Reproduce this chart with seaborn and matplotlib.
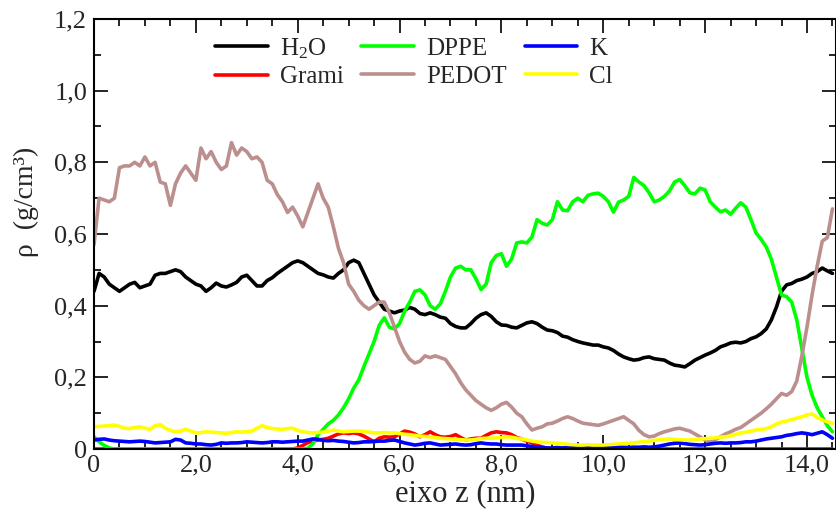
import numpy as np
import pandas as pd
import matplotlib
matplotlib.use("Agg")
import matplotlib.pyplot as plt
import seaborn as sns
from matplotlib.ticker import MultipleLocator, FixedLocator, FixedFormatter

# ---------------- data ----------------
z_nm = np.round(np.arange(0, 14.55, 0.1), 1)  # 0.0 .. 14.5 nm

h2o = [0.44, 0.49, 0.48, 0.46, 0.45, 0.44, 0.45, 0.46, 0.465, 0.45,
       0.455, 0.46, 0.485, 0.49, 0.49, 0.495, 0.50, 0.495, 0.48, 0.47,
       0.46, 0.455, 0.44, 0.45, 0.463, 0.455, 0.452, 0.458, 0.465, 0.48,
       0.485, 0.47, 0.455, 0.455, 0.47, 0.478, 0.49, 0.50, 0.51, 0.52,
       0.525, 0.52, 0.51, 0.50, 0.49, 0.486, 0.48, 0.477, 0.49, 0.50,
       0.52, 0.527, 0.52, 0.49, 0.46, 0.43, 0.41, 0.39, 0.385, 0.38,
       0.385, 0.388, 0.395, 0.39, 0.378, 0.375, 0.38, 0.375, 0.368, 0.365,
       0.35, 0.342, 0.338, 0.338, 0.35, 0.365, 0.375, 0.38, 0.37, 0.355,
       0.346, 0.345, 0.34, 0.338, 0.345, 0.352, 0.355, 0.35, 0.34, 0.332,
       0.33, 0.325, 0.315, 0.312, 0.305, 0.30, 0.296, 0.293, 0.29, 0.29,
       0.285, 0.282, 0.275, 0.265, 0.257, 0.252, 0.248, 0.25, 0.255, 0.257,
       0.252, 0.25, 0.248, 0.24, 0.234, 0.232, 0.229, 0.238, 0.248, 0.255,
       0.262, 0.268, 0.275, 0.285, 0.29, 0.296, 0.298, 0.296, 0.30, 0.308,
       0.313, 0.322, 0.335, 0.36, 0.396, 0.44, 0.458, 0.462, 0.47, 0.474,
       0.48, 0.49, 0.495, 0.505, 0.497, 0.49]

grami = [0.0] * 40 + [
       0.003, 0.01, 0.018, 0.022, 0.025, 0.027, 0.03, 0.036, 0.042, 0.045,
       0.043, 0.045, 0.042, 0.036, 0.028, 0.02, 0.03, 0.034, 0.033, 0.034,
       0.042, 0.05, 0.047, 0.042, 0.034, 0.04, 0.048, 0.04, 0.034, 0.033,
       0.035, 0.04, 0.032, 0.025, 0.028, 0.03, 0.03, 0.038, 0.045, 0.048,
       0.046, 0.045, 0.04, 0.032, 0.028, 0.022, 0.017, 0.01, 0.006, 0.002] + [0.0] * 56

dppe = [0.034, 0.02, 0.01, 0.003] + [0.0] * 38 + [
       0.002, 0.015, 0.04, 0.055, 0.07, 0.08, 0.095, 0.115,
       0.14, 0.17, 0.193, 0.23, 0.265, 0.30, 0.345, 0.366, 0.34, 0.335,
       0.35, 0.385, 0.41, 0.44, 0.444, 0.43, 0.40, 0.39, 0.405, 0.44,
       0.48, 0.505, 0.51, 0.50, 0.50, 0.475, 0.445, 0.46, 0.52, 0.54,
       0.545, 0.51, 0.53, 0.575, 0.578, 0.575, 0.592, 0.64, 0.63, 0.625,
       0.64, 0.69, 0.667, 0.665, 0.69, 0.70, 0.69, 0.708, 0.712, 0.714,
       0.705, 0.69, 0.661, 0.689, 0.695, 0.705, 0.758, 0.745, 0.735, 0.715,
       0.69, 0.695, 0.705, 0.72, 0.745, 0.752, 0.735, 0.715, 0.712, 0.728,
       0.723, 0.69, 0.675, 0.662, 0.667, 0.655, 0.672, 0.687, 0.675, 0.64,
       0.603, 0.585, 0.564, 0.53, 0.48, 0.43, 0.425, 0.41, 0.36, 0.28,
       0.20, 0.15, 0.115, 0.09, 0.065, 0.048]

pedot = [0.57, 0.70, 0.695, 0.69, 0.70, 0.785, 0.79, 0.79, 0.80, 0.79,
         0.815, 0.79, 0.80, 0.745, 0.74, 0.68, 0.74, 0.77, 0.79, 0.77,
         0.75, 0.84, 0.81, 0.83, 0.80, 0.78, 0.79, 0.855, 0.82, 0.84,
         0.83, 0.81, 0.815, 0.80, 0.75, 0.74, 0.71, 0.69, 0.66, 0.675,
         0.65, 0.62, 0.66, 0.70, 0.74, 0.70, 0.675, 0.62, 0.56, 0.52,
         0.46, 0.44, 0.415, 0.40, 0.39, 0.40, 0.41, 0.41, 0.38, 0.34,
         0.30, 0.27, 0.25, 0.24, 0.245, 0.26, 0.255, 0.26, 0.255, 0.25,
         0.23, 0.21, 0.185, 0.165, 0.15, 0.135, 0.125, 0.115, 0.108, 0.115,
         0.125, 0.13, 0.117, 0.10, 0.09, 0.07, 0.053, 0.058, 0.062, 0.07,
         0.072, 0.078, 0.085, 0.09, 0.085, 0.078, 0.072, 0.07, 0.068, 0.066,
         0.07, 0.075, 0.08, 0.085, 0.09, 0.08, 0.07, 0.052, 0.04, 0.034,
         0.036, 0.043, 0.048, 0.052, 0.056, 0.058, 0.054, 0.05, 0.042, 0.034,
         0.025, 0.02, 0.026, 0.034, 0.042, 0.048, 0.055, 0.06, 0.07, 0.08,
         0.09, 0.10, 0.112, 0.125, 0.14, 0.155, 0.15, 0.16, 0.19, 0.26,
         0.34, 0.43, 0.51, 0.58, 0.59, 0.67]

k_ion = [0.025, 0.027, 0.028, 0.025, 0.023, 0.022, 0.021, 0.02, 0.021, 0.022,
         0.021, 0.019, 0.017, 0.018, 0.019, 0.02, 0.027, 0.025, 0.017, 0.016,
         0.014, 0.014, 0.012, 0.011, 0.013, 0.017, 0.016, 0.017, 0.017, 0.018,
         0.02, 0.019, 0.018, 0.017, 0.018, 0.02, 0.02, 0.019, 0.02, 0.021,
         0.022, 0.022, 0.025, 0.028, 0.027, 0.024, 0.023, 0.024, 0.022, 0.021,
         0.019, 0.017, 0.018, 0.02, 0.02, 0.021, 0.022, 0.022, 0.024, 0.025,
         0.021, 0.017, 0.014, 0.011, 0.013, 0.016, 0.017, 0.014, 0.011, 0.012,
         0.013, 0.014, 0.012, 0.011, 0.012, 0.015, 0.017, 0.015, 0.014, 0.014,
         0.012, 0.011, 0.011, 0.011, 0.011, 0.009, 0.007, 0.006, 0.004, 0.003,
         0.003, 0.004, 0.003, 0.005, 0.006, 0.005, 0.004, 0.005, 0.006, 0.005,
         0.005, 0.004, 0.005, 0.006, 0.005, 0.004, 0.005, 0.005, 0.006, 0.005,
         0.006, 0.008, 0.011, 0.014, 0.016, 0.017, 0.015, 0.013, 0.012, 0.011,
         0.012, 0.014, 0.016, 0.017, 0.016, 0.017, 0.017, 0.018, 0.02, 0.02,
         0.022, 0.025, 0.028, 0.03, 0.032, 0.034, 0.038, 0.04, 0.043, 0.045,
         0.043, 0.04, 0.044, 0.048, 0.04, 0.03]

cl_ion = [0.062, 0.063, 0.064, 0.065, 0.067, 0.063, 0.058, 0.057, 0.06, 0.062,
          0.058, 0.055, 0.065, 0.068, 0.058, 0.052, 0.048, 0.05, 0.055, 0.05,
          0.045, 0.046, 0.048, 0.047, 0.046, 0.045, 0.044, 0.046, 0.048, 0.047,
          0.048, 0.05, 0.058, 0.065, 0.06, 0.057, 0.056, 0.055, 0.057, 0.058,
          0.052, 0.048, 0.046, 0.045, 0.046, 0.047, 0.05, 0.053, 0.05, 0.048,
          0.049, 0.05, 0.05, 0.049, 0.047, 0.045, 0.045, 0.046, 0.045, 0.045,
          0.043, 0.041, 0.04, 0.038, 0.036, 0.035, 0.034, 0.032, 0.03, 0.029,
          0.028, 0.027, 0.026, 0.025, 0.025, 0.027, 0.029, 0.03, 0.03, 0.031,
          0.032, 0.034, 0.033, 0.03, 0.028, 0.025, 0.022, 0.02, 0.019, 0.018,
          0.017, 0.016, 0.015, 0.013, 0.012, 0.011, 0.011, 0.012, 0.011, 0.011,
          0.011, 0.012, 0.013, 0.014, 0.015, 0.016, 0.017, 0.019, 0.021, 0.022,
          0.024, 0.026, 0.027, 0.028, 0.027, 0.026, 0.025, 0.025, 0.026, 0.028,
          0.029, 0.03, 0.031, 0.033, 0.034, 0.037, 0.041, 0.045, 0.047, 0.05,
          0.053, 0.055, 0.057, 0.062, 0.07, 0.075, 0.078, 0.082, 0.086, 0.09,
          0.095, 0.098, 0.088, 0.081, 0.076, 0.072]

labels = ["H$_2$O", "Grami", "DPPE", "PEDOT", "K", "Cl"]
colors = ["#000000", "#ff0000", "#00ff00", "#bc8f8f", "#0000ff", "#ffff00"]
x_ticks = [0, 2, 4, 6, 8, 10, 12, 14]
x_tick_labels = ["0", "2,0", "4,0", "6,0", "8,0", "10,0", "12,0", "14,0"]
y_ticks = [0, 0.2, 0.4, 0.6, 0.8, 1.0, 1.2]
y_tick_labels = ["0", "0,2", "0,4", "0,6", "0,8", "1,0", "1,2"]

series = [h2o, grami, dppe, pedot, k_ion, cl_ion]
frames = []
for lab, vals in zip(labels, series):
    frames.append(pd.DataFrame({"z": z_nm[:len(vals)], "rho": vals, "species": lab}))
df = pd.concat(frames, ignore_index=True)

# ---------------- style ----------------
sns.set_style("ticks")
plt.rcParams["font.family"] = ["Liberation Serif", "DejaVu Serif"]
plt.rcParams["mathtext.fontset"] = "custom"
plt.rcParams["mathtext.rm"] = "Liberation Serif"
plt.rcParams["mathtext.it"] = "Liberation Serif:italic"

fig = plt.figure(figsize=(8.37, 5.12), dpi=100)
ax = fig.add_axes([94 / 837, 63 / 512, 742 / 837, 430 / 512])

sns.lineplot(data=df, x="z", y="rho", hue="species", hue_order=labels,
             palette=dict(zip(labels, colors)), linewidth=2.6, ax=ax,
             estimator=None, sort=False)

ax.set_xlim(0, 14.57)
ax.set_ylim(0, 1.2)
ax.xaxis.set_major_locator(FixedLocator(x_ticks))
ax.xaxis.set_major_formatter(FixedFormatter(x_tick_labels))
ax.yaxis.set_major_locator(FixedLocator(y_ticks))
ax.yaxis.set_major_formatter(FixedFormatter(y_tick_labels))
ax.xaxis.set_minor_locator(MultipleLocator(0.5))
ax.yaxis.set_minor_locator(MultipleLocator(0.1))
ax.tick_params(which="both", direction="in", top=True, right=True,
               color="black", width=1.2)
ax.tick_params(which="major", length=10, labelsize=19, pad=4)
ax.tick_params(axis="y", which="major", pad=5)
ax.tick_params(which="minor", length=5)
for s in ax.spines.values():
    s.set_linewidth(1.5)
    s.set_color("black")

ax.set_xlabel("eixo z (nm)", fontsize=22, labelpad=2)
ax.set_ylabel("ρ  (g/cm³)", fontsize=20)
ax.yaxis.set_label_coords(-0.074, 0.575)

leg = ax.legend(loc="upper left", bbox_to_anchor=(121 / 742, 0.96), ncol=3,
                frameon=False, fontsize=18, handlelength=2.1,
                handletextpad=0.5, columnspacing=0.7, labelspacing=0.2,
                borderpad=0, borderaxespad=0)
for line in leg.get_lines():
    line.set_linewidth(2.6)

fig.savefig("out.png", dpi=100)
